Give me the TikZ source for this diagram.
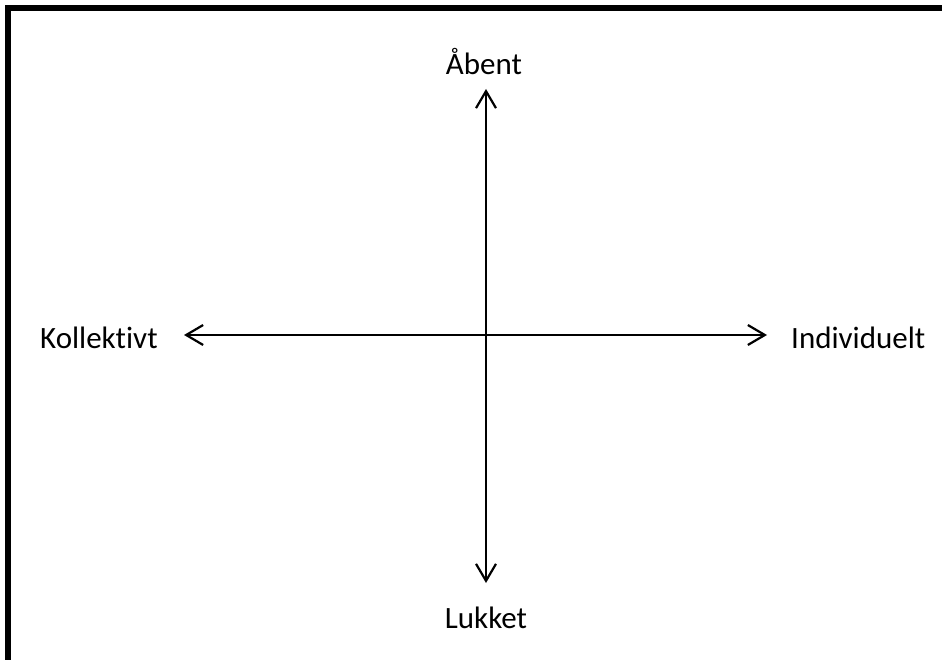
\documentclass[tikz,border=0pt]{standalone}
\usepackage{fontspec}
\setmainfont{Carlito}[Ligatures=NoCommon]
\usetikzlibrary{arrows.meta}
\begin{document}
\begin{tikzpicture}[x=1pt,y=-1pt,
  lbl/.style={font=\fontsize{31}{36}\selectfont, inner sep=0pt, anchor=base},
  axis/.style={line width=2.2pt, {Straight Barb[length=17pt,width=20pt,line width=2.2pt]}-{Straight Barb[length=17pt,width=20pt,line width=2.2pt]}}]
\useasboundingbox (0,0) rectangle (942,660);
\fill[white] (0,0) rectangle (942,660);
\draw[line width=6pt, line join=miter] (8,662) -- (8,8) -- (944,8);
\node[lbl] (aabent) at (484,75) {Åbent};
\node[lbl] (lukket) at (486,628) {Lukket};
\node[lbl, anchor=base west] (koll) at (40,348) {Kollektivt};
\node[lbl, anchor=base west] (indiv) at (791,348) {Individuelt};
\coordinate (vt) at (486,89);
\coordinate (vb) at (486,583);
\coordinate (hl) at (184,335);
\coordinate (hr) at (767,335);
\draw[axis] (vb) -- (vt);
\draw[axis] (hl) -- (hr);
\end{tikzpicture}
\end{document}
